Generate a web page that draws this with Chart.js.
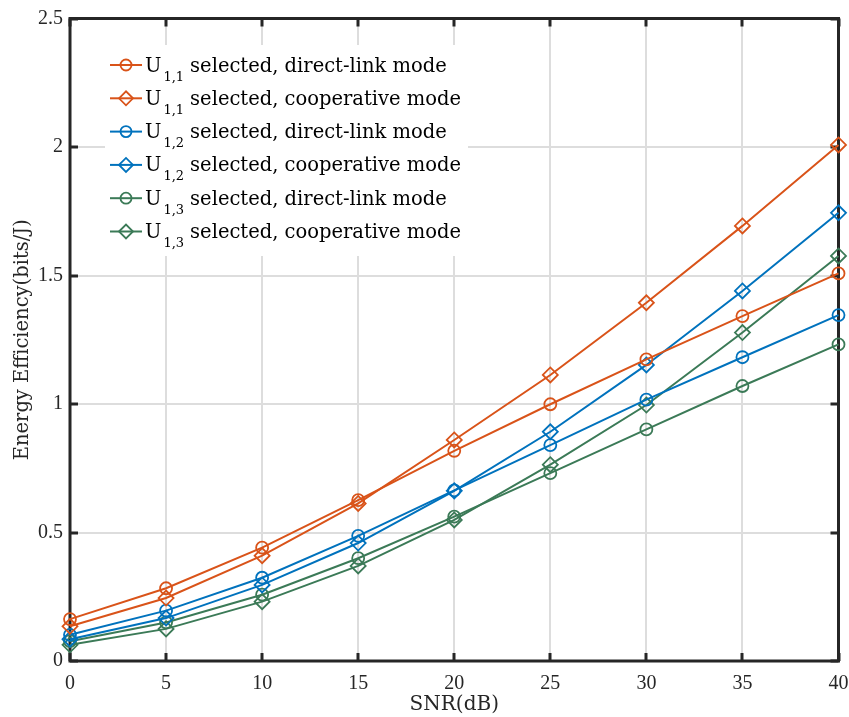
<!DOCTYPE html>
<html>
<head>
<meta charset="utf-8">
<script src="https://cdn.jsdelivr.net/npm/chart.js@4/dist/chart.umd.min.js"></script>
<style>
  html, body { margin: 0; padding: 0; background: #fff; }
  #wrap { position: relative; width: 849px; height: 717px; }
</style>
</head>
<body>
<div id="wrap"><canvas id="c" width="849" height="717"></canvas></div>
<script>
// ---- data ----
const snr = [0, 5, 10, 15, 20, 25, 30, 35, 40];
const u11Direct = [0.163, 0.283, 0.441, 0.626, 0.818, 0.999, 1.174, 1.342, 1.508];
const u11Coop   = [0.135, 0.245, 0.410, 0.613, 0.860, 1.113, 1.394, 1.693, 2.008];
const u12Direct = [0.102, 0.196, 0.324, 0.487, 0.664, 0.840, 1.017, 1.182, 1.346];
const u12Coop   = [0.085, 0.167, 0.296, 0.459, 0.662, 0.892, 1.152, 1.440, 1.744];
const u13Direct = [0.077, 0.150, 0.258, 0.400, 0.562, 0.731, 0.901, 1.070, 1.232];
const u13Coop   = [0.063, 0.125, 0.231, 0.370, 0.549, 0.764, 0.996, 1.278, 1.576];
const userSubs  = ['1,1', '1,1', '1,2', '1,2', '1,3', '1,3'];
const modeTexts = ['selected, direct-link mode', 'selected, cooperative mode',
                   'selected, direct-link mode', 'selected, cooperative mode',
                   'selected, direct-link mode', 'selected, cooperative mode'];
const xTicks = [0, 5, 10, 15, 20, 25, 30, 35, 40];
const xTickLabels = ['0', '5', '10', '15', '20', '25', '30', '35', '40'];
const yTicks = [0, 0.5, 1, 1.5, 2, 2.5];
const yTickLabels = ['0', '0.5', '1', '1.5', '2', '2.5'];
const xTitle = 'SNR(dB)';
const yTitle = 'Energy Efficiency(bits/J)';

const ORANGE = '#D95319', BLUE = '#0072BD', GREEN = '#3B7A57';
const seriesValues = [u11Direct, u11Coop, u12Direct, u12Coop, u13Direct, u13Coop];
const seriesColors = [ORANGE, ORANGE, BLUE, BLUE, GREEN, GREEN];
const seriesMarkers = ['circle', 'rectRot', 'circle', 'rectRot', 'circle', 'rectRot'];

const TICKFONT = "'Liberation Serif', serif";
const TEXTFONT = "'DejaVu Serif', serif";
const AXIS = '#262626';

const datasets = seriesValues.map((vals, i) => ({
  label: 'U' + userSubs[i] + ' ' + modeTexts[i],
  data: snr.map((x, j) => ({ x: x, y: vals[j] })),
  borderColor: seriesColors[i],
  backgroundColor: 'rgba(0,0,0,0)',
  borderWidth: 2,
  pointStyle: seriesMarkers[i],
  pointRadius: seriesMarkers[i] === 'circle' ? 6 : 7.5,
  pointBorderWidth: 1.8,
  pointBorderColor: seriesColors[i],
  pointBackgroundColor: 'rgba(0,0,0,0)',
  tension: 0,
  clip: false
}));

const LEG = { left: 105, top: 45, right: 468, bottom: 256, y0: 65, dy: 33.3 };

const matlabPlugin = {
  id: 'matlab',
  beforeDatasetsDraw(chart) {
    const ctx = chart.ctx, a = chart.chartArea;
    const xs = chart.scales.x, ys = chart.scales.y;
    ctx.save();
    ctx.fillStyle = '#fff';
    ctx.fillRect(LEG.left, LEG.top, LEG.right - LEG.left, LEG.bottom - LEG.top);
    ctx.strokeStyle = AXIS;
    ctx.lineWidth = 3;
    const tl = 8;
    ctx.beginPath();
    xTicks.forEach(v => {
      const px = Math.round(xs.getPixelForValue(v));
      ctx.moveTo(px, a.bottom); ctx.lineTo(px, a.bottom - tl);
      ctx.moveTo(px, a.top); ctx.lineTo(px, a.top + tl);
    });
    yTicks.forEach(v => {
      const py = Math.round(ys.getPixelForValue(v));
      ctx.moveTo(a.left, py); ctx.lineTo(a.left + tl, py);
      ctx.moveTo(a.right, py); ctx.lineTo(a.right - tl, py);
    });
    ctx.stroke();
    ctx.strokeRect(a.left, a.top, a.right - a.left, a.bottom - a.top);
    ctx.restore();
  },
  afterDatasetsDraw(chart) {
    const ctx = chart.ctx;
    ctx.save();
    chart.data.datasets.forEach((ds, i) => {
      const y = LEG.y0 + i * LEG.dy;
      ctx.strokeStyle = ds.borderColor;
      ctx.lineWidth = 2;
      ctx.beginPath();
      ctx.moveTo(110, y); ctx.lineTo(142, y);
      ctx.stroke();
      ctx.lineWidth = 1.8;
      ctx.fillStyle = 'rgba(0,0,0,0)';
      Chart.helpers.drawPoint(ctx, {
        pointStyle: ds.pointStyle,
        radius: ds.pointStyle === 'circle' ? 5.5 : 7,
        borderWidth: 1.8
      }, 126, y);
      ctx.fillStyle = '#000';
      ctx.textBaseline = 'alphabetic';
      ctx.textAlign = 'left';
      ctx.font = '19.5px ' + TEXTFONT;
      const base = y + 6.5;
      ctx.fillText('U', 145, base);
      let x = 145 + ctx.measureText('U').width + 2;
      ctx.font = '13px ' + TEXTFONT;
      ctx.fillText(userSubs[i], x, base + 9);
      x += ctx.measureText(userSubs[i]).width + 6;
      ctx.font = '19.5px ' + TEXTFONT;
      ctx.fillText(modeTexts[i], x, base);
    });
    ctx.restore();
  }
};

new Chart(document.getElementById('c'), {
  type: 'line',
  data: { datasets: datasets },
  plugins: [matlabPlugin],
  options: {
    responsive: false,
    animation: false,
    devicePixelRatio: 1,
    layout: { padding: { top: 18.5, right: 10.5, left: 0, bottom: 0 } },
    plugins: { legend: { display: false }, tooltip: { enabled: false } },
    scales: {
      x: {
        type: 'linear', min: 0, max: 40,
        afterBuildTicks(scale) { scale.ticks = xTicks.map(v => ({ value: v })); },
        afterFit(scale) { scale.height = 56; scale.paddingLeft = 0; scale.paddingRight = 0; },
        grid: { color: '#dddddd', lineWidth: 2, drawTicks: false },
        border: { display: false },
        ticks: {
          color: AXIS, font: { family: TICKFONT, size: 20 }, padding: 11, maxRotation: 0,
          callback: (v) => { const k = xTicks.indexOf(v); return k >= 0 ? xTickLabels[k] : ''; }
        },
        title: { display: true, text: xTitle, color: AXIS, font: { family: TEXTFONT, size: 20 }, padding: { top: 0, bottom: 0 } }
      },
      y: {
        type: 'linear', min: 0, max: 2.5,
        afterBuildTicks(scale) { scale.ticks = yTicks.map(v => ({ value: v })); },
        afterFit(scale) { scale.width = 70; scale.paddingTop = 0; scale.paddingBottom = 0; },
        grid: { color: '#dddddd', lineWidth: 2, drawTicks: false },
        border: { display: false },
        ticks: {
          color: AXIS, font: { family: TICKFONT, size: 20 }, padding: 7,
          callback: (v) => { const k = yTicks.indexOf(v); return k >= 0 ? yTickLabels[k] : ''; }
        },
        title: { display: true, text: yTitle, color: AXIS, font: { family: TEXTFONT, size: 19.5 }, padding: { top: 11, bottom: 0 } }
      }
    }
  }
});
</script>
</body>
</html>
